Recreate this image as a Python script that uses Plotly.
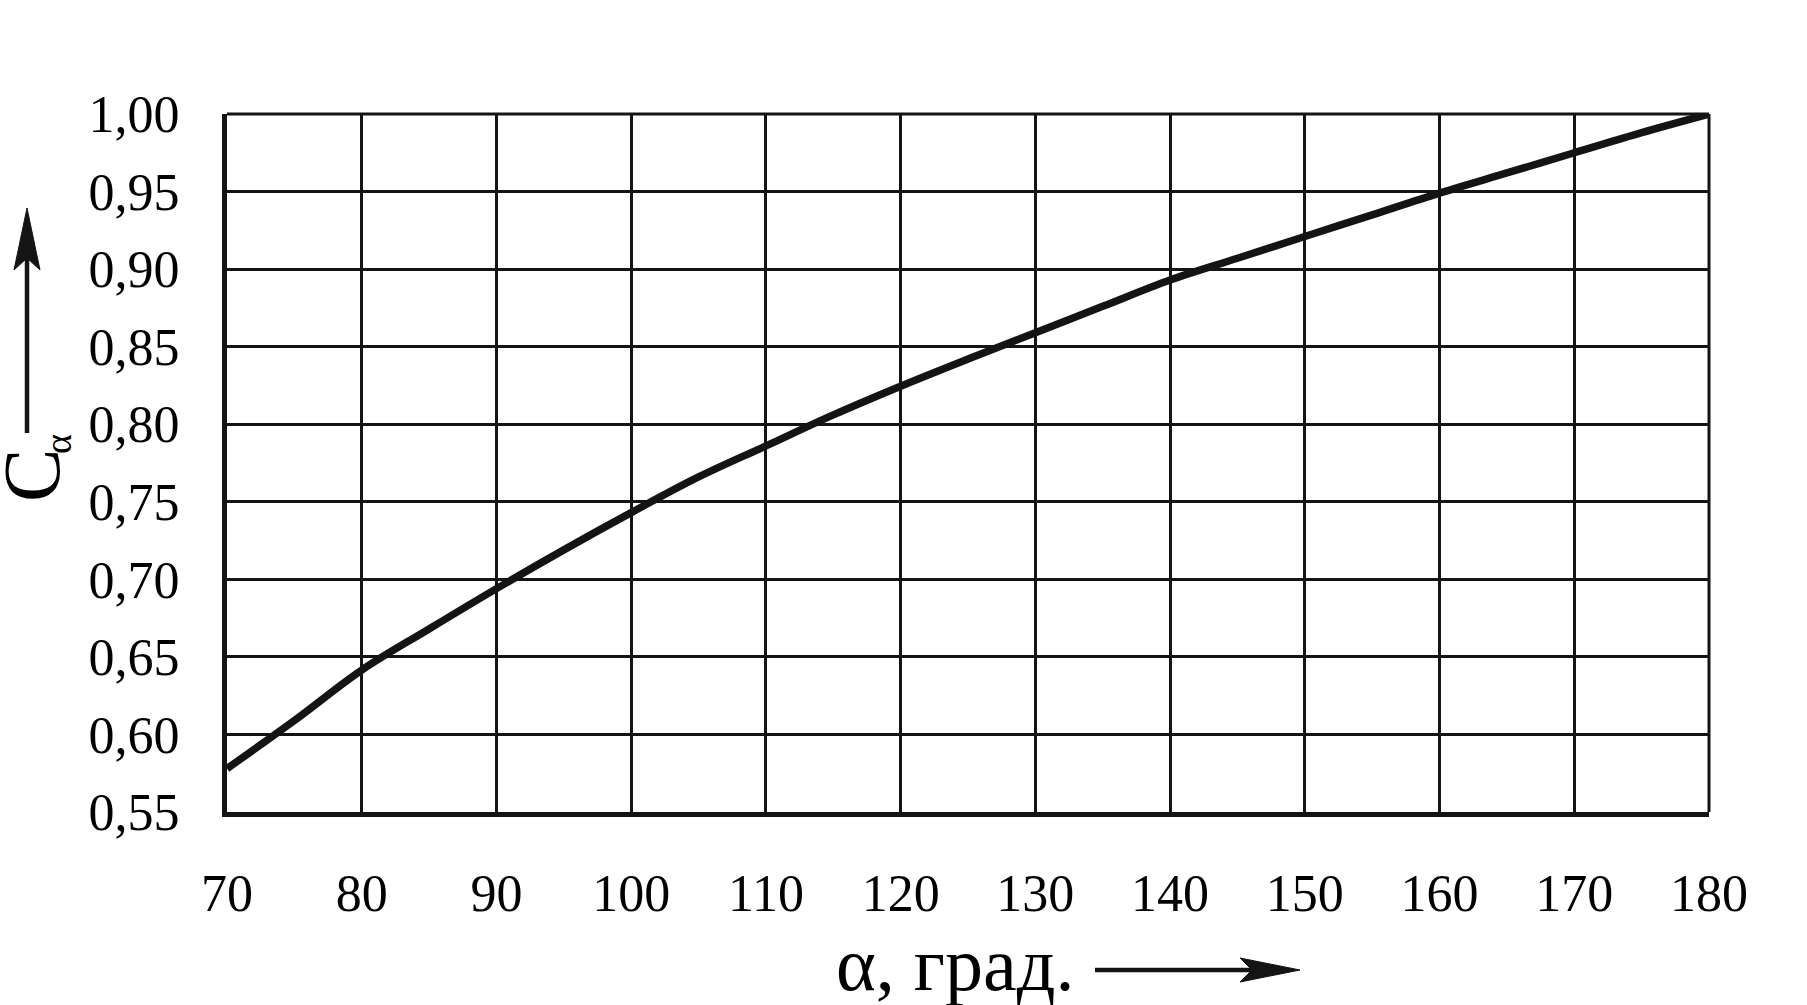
import plotly.graph_objects as go

alpha_deg = [70, 75, 80, 85, 90, 95, 100, 105, 110, 115, 120, 125, 130,
             135, 140, 145, 150, 155, 160, 165, 170, 175, 180]
c_alpha = [0.578, 0.609, 0.6415, 0.668, 0.694, 0.719, 0.743, 0.766, 0.786,
           0.806, 0.8245, 0.842, 0.859, 0.876, 0.893, 0.907, 0.921, 0.935,
           0.949, 0.962, 0.975, 0.988, 1.000]

x_ticks = [70, 80, 90, 100, 110, 120, 130, 140, 150, 160, 170, 180]
y_ticks = [0.55, 0.60, 0.65, 0.70, 0.75, 0.80, 0.85, 0.90, 0.95, 1.00]
y_ticktext = ["0,55", "0,60", "0,65", "0,70", "0,75", "0,80", "0,85", "0,90", "0,95", "1,00"]

W, H = 1807, 1005
L, R, T, B = 227, 98, 114, 193
PW, PH = W - L - R, H - T - B

def px(xp):
    return (xp - L) / PW

def py(yp):
    return (H - B - yp) / PH

FONT = "Liberation Serif, Times New Roman, serif"
INK = "#141414"

fig = go.Figure()
fig.add_trace(go.Scatter(
    x=alpha_deg, y=c_alpha, mode="lines",
    line=dict(color=INK, width=7.5, shape="spline", smoothing=1.0),
    showlegend=False, hoverinfo="skip",
))

fig.update_layout(
    width=W, height=H,
    margin=dict(l=L, r=R, t=T, b=B, autoexpand=False),
    paper_bgcolor="white", plot_bgcolor="white",
    font=dict(family=FONT, color="black", size=52),
    xaxis=dict(
        range=[70, 180], tickvals=x_ticks, ticktext=[str(v) for v in x_ticks],
        showgrid=True, gridcolor=INK, gridwidth=2.5,
        showline=True, linecolor=INK, linewidth=5,
        ticks="outside", ticklen=32, tickcolor="rgba(0,0,0,0)",
        tickfont=dict(family=FONT, size=52, color="black"),
        zeroline=False, fixedrange=True,
    ),
    yaxis=dict(
        range=[0.55, 1.00], tickvals=y_ticks, ticktext=y_ticktext,
        showgrid=True, gridcolor=INK, gridwidth=2.5,
        showline=True, linecolor=INK, linewidth=5,
        ticks="outside", ticklen=32, tickcolor="rgba(0,0,0,0)",
        tickfont=dict(family=FONT, size=52, color="black"),
        zeroline=False, fixedrange=True,
    ),
)

# top and right frame lines
fig.add_shape(type="line", xref="paper", yref="paper", x0=0, x1=1, y0=1, y1=1,
              line=dict(color=INK, width=3))
fig.add_shape(type="line", xref="paper", yref="paper", x0=1, x1=1, y0=0, y1=1,
              line=dict(color=INK, width=3))

# x-axis title
fig.add_annotation(
    xref="paper", yref="paper", x=px(955), y=py(964),
    text="α, град.", showarrow=False, xanchor="center", yanchor="middle",
    font=dict(family=FONT, size=76, color="black"),
)
# x arrow
fig.add_shape(type="line", xref="paper", yref="paper",
              x0=px(1095), x1=px(1260), y0=py(970), y1=py(970),
              line=dict(color=INK, width=4.5))
fig.add_shape(type="path", xref="paper", yref="paper",
              path=f"M {px(1300)},{py(970)} L {px(1240)},{py(958)} L {px(1252)},{py(970)} L {px(1240)},{py(982)} Z",
              fillcolor=INK, line=dict(color=INK, width=1))

# y-axis title: C with small subscript alpha
fig.add_annotation(
    xref="paper", yref="paper", x=px(32), y=py(476),
    text="C", showarrow=False, xanchor="center", yanchor="middle",
    textangle=-90, font=dict(family=FONT, size=80, color="black"),
)
fig.add_annotation(
    xref="paper", yref="paper", x=px(58), y=py(444),
    text="α", showarrow=False, xanchor="center", yanchor="middle",
    textangle=-90, font=dict(family=FONT, size=38, color="black"),
)
# y arrow
fig.add_shape(type="line", xref="paper", yref="paper",
              x0=px(27), x1=px(27), y0=py(433), y1=py(255),
              line=dict(color=INK, width=4.5))
fig.add_shape(type="path", xref="paper", yref="paper",
              path=f"M {px(27)},{py(208)} L {px(14)},{py(270)} L {px(27)},{py(258)} L {px(40)},{py(270)} Z",
              fillcolor=INK, line=dict(color=INK, width=1))

fig.write_html("out.html", config={"displayModeBar": False},
               post_script="document.body.style.margin='0';document.body.style.overflow='hidden';")
